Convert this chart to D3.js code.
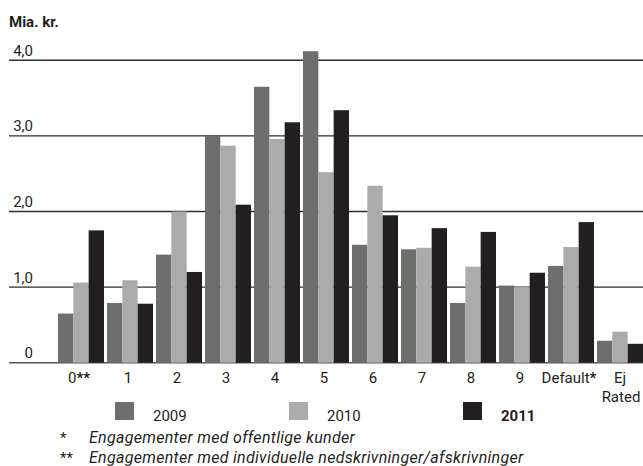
<!DOCTYPE html>
<html>
<head>
<meta charset="utf-8">
<script src="https://cdn.jsdelivr.net/npm/d3@7"></script>
<style>
  html, body { margin: 0; padding: 0; background: #fff; }
  svg { display: block; }
  text { font-family: Roboto, "Open Sans", sans-serif; fill: #231f20; }
</style>
</head>
<body>
<svg id="chart" width="643" height="466"></svg>
<script>
// Rating classes on the x axis (asterisks refer to the footnotes)
const categories = ["0**", "1", "2", "3", "4", "5", "6", "7", "8", "9", "Default*", "Ej Rated"];
const years = ["2009", "2010", "2011"];

// Exposure in billions of DKK per rating class
const values2009 = [0.65, 0.79, 1.43, 3.00, 3.65, 4.12, 1.56, 1.50, 0.79, 1.02, 1.28, 0.29];
const values2010 = [1.06, 1.09, 2.00, 2.87, 2.96, 2.52, 2.34, 1.52, 1.27, 1.00, 1.53, 0.41];
const values2011 = [1.75, 0.78, 1.20, 2.09, 3.18, 3.34, 1.95, 1.78, 1.73, 1.19, 1.86, 0.25];

const yTicks = [0, 1, 2, 3, 4];
const yTickLabels = ["0", "1,0", "2,0", "3,0", "4,0"];
const footnotes = [
  { mark: "*", text: "Engagementer med offentlige kunder" },
  { mark: "**", text: "Engagementer med individuelle nedskrivninger/afskrivninger" }
];

const colors = { "2009": "#6d6f6d", "2010": "#ababab", "2011": "#231f20" };
const seriesValues = { "2009": values2009, "2010": values2010, "2011": values2011 };

const svg = d3.select("#chart");

const x0 = d3.scaleBand().domain(categories).range([58, 643]).paddingInner(0.061).paddingOuter(0);
const x1 = d3.scaleBand().domain(years).range([0, x0.bandwidth()]);
const y = d3.scaleLinear().domain([0, 4]).range([362.7, 60.3]);

// Unit label
svg.append("text").attr("x", 9).attr("y", 27)
  .style("font-size", "15px").style("font-weight", "bold").text("Mia. kr.");

// Horizontal gridlines with labels sitting above them
const grid = svg.append("g");
grid.selectAll("line").data(yTicks).join("line")
  .attr("x1", 9).attr("x2", 643)
  .attr("y1", d => y(d)).attr("y2", d => y(d))
  .attr("stroke", d => d === 0 ? "#555" : "#2d2d2d").attr("stroke-width", 1.4);
grid.selectAll("text").data(yTicks).join("text")
  .attr("x", 33).attr("y", d => y(d) - 4.5)
  .attr("text-anchor", "end").style("font-size", "15px")
  .text((d, i) => yTickLabels[i]);

// Grouped bars
const groups = svg.append("g").selectAll("g").data(categories).join("g")
  .attr("transform", c => `translate(${x0(c)},0)`);
groups.selectAll("rect")
  .data((c, i) => years.map(yr => ({ yr, v: seriesValues[yr][i] })))
  .join("rect")
  .attr("x", d => x1(d.yr))
  .attr("width", x1.bandwidth())
  .attr("y", d => y(d.v))
  .attr("height", d => y(0) - y(d.v))
  .attr("fill", d => colors[d.yr]);

// Category labels (asterisks in bold, "Ej Rated" on two lines)
const xl = svg.append("g").selectAll("text").data(categories).join("text")
  .attr("x", c => x0(c) + x0.bandwidth() / 2 - 2)
  .attr("y", 383)
  .attr("text-anchor", "middle")
  .style("font-size", "15px");
xl.each(function (c) {
  const t = d3.select(this);
  if (c === "Ej Rated") {
    t.attr("x", x0(c) + x0.bandwidth() / 2);
    t.append("tspan").text("Ej");
    t.append("tspan").attr("x", x0(c) + x0.bandwidth() / 2 + 1).attr("dy", 19).text("Rated");
  } else {
    const m = c.match(/^([^*]*)(\**)$/);
    t.append("tspan").text(m[1]);
    if (m[2]) t.append("tspan").style("font-weight", "bold").text(m[2]);
  }
});

// Legend
const legendX = d3.scaleOrdinal().domain(years).range([115, 289, 463]);
const lg = svg.append("g").selectAll("g").data(years).join("g")
  .attr("transform", d => `translate(${legendX(d)},402)`);
lg.append("rect").attr("width", 19).attr("height", 18).attr("fill", d => colors[d]);
lg.append("text").attr("x", 38).attr("y", 19)
  .style("font-size", "15px")
  .style("font-weight", d => d === "2011" ? "bold" : "normal")
  .text(d => d);

// Footnotes
const fn = svg.append("g").selectAll("g").data(footnotes).join("g")
  .attr("transform", (d, i) => `translate(0,${443 + i * 20})`);
fn.append("text").attr("x", 60).attr("y", 0).style("font-size", "15px").text(d => d.mark);
fn.append("text").attr("x", 89).attr("y", 0)
  .style("font-size", "16px").style("font-style", "italic")
  .style("letter-spacing", "0.3px").text(d => d.text);
</script>
</body>
</html>
